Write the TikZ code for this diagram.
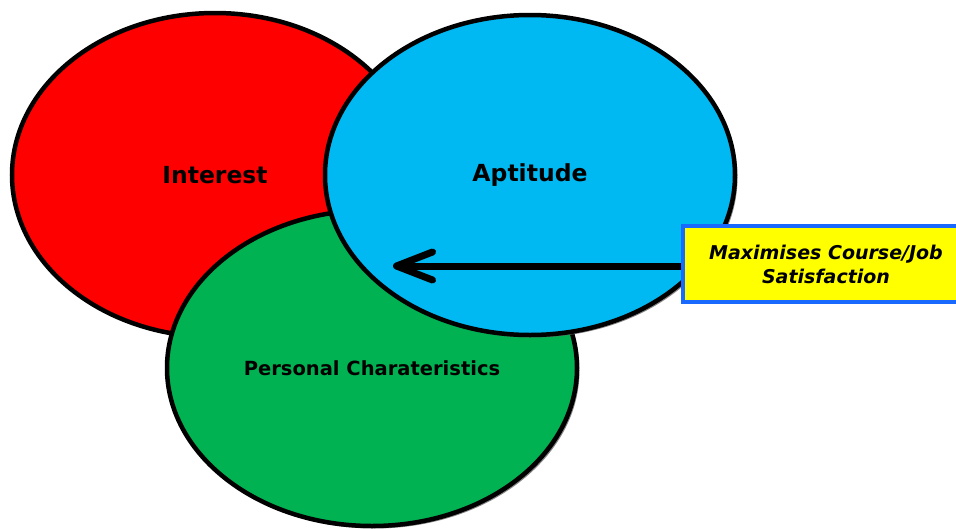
\documentclass[tikz,border=0pt]{standalone}
\usepackage{fontspec}
\setmainfont{DejaVu Sans}
\usetikzlibrary{shapes.geometric,arrows.meta,shadows}
\definecolor{ovred}{RGB}{255,0,0}
\definecolor{ovblue}{RGB}{0,184,242}
\definecolor{ovgreen}{RGB}{0,178,82}
\definecolor{notefill}{RGB}{255,255,0}
\definecolor{noteedge}{RGB}{25,105,255}
\begin{document}
\begin{tikzpicture}[x=1pt,y=-1pt,
    blob/.style={ellipse,draw=black,line width=4.5pt,inner sep=0pt,
      minimum width=410pt,font=\bfseries,
      drop shadow={shadow xshift=2.5pt,shadow yshift=-2.5pt,fill=black!60,opacity=0.8}},
    note/.style={rectangle,draw=noteedge,fill=notefill,line width=3.5pt,
      minimum width=286pt,minimum height=76pt,align=center,
      font=\bfseries\itshape\fontsize{19}{24}\selectfont}]
      \clip (0,0) rectangle (956,528);
      \draw
        (215,175) node[blob,fill=ovred,minimum width=406pt,minimum height=324pt,
          font=\bfseries\fontsize{23.5}{26}\selectfont] (interest){Interest}
        (372,368) node[blob,fill=ovgreen,minimum height=316pt,
          font=\bfseries\fontsize{19.5}{22}\selectfont] (personal){Personal Charateristics}
        (530,175) node[blob,fill=ovblue,minimum height=320pt,
          font=\bfseries\fontsize{23.5}{26}\selectfont] (aptitude){Aptitude};
      \coordinate (tip) at (393,266);
      \node[note] (sat) at (826,264) {Maximises Course/Job\\Satisfaction};
      \begin{scope}[line width=7pt]
        \draw[-{Straight Barb[length=36pt,width=28pt,round]}] (sat.west |- tip) to (tip);
      \end{scope}
    \end{tikzpicture}
\end{document}
